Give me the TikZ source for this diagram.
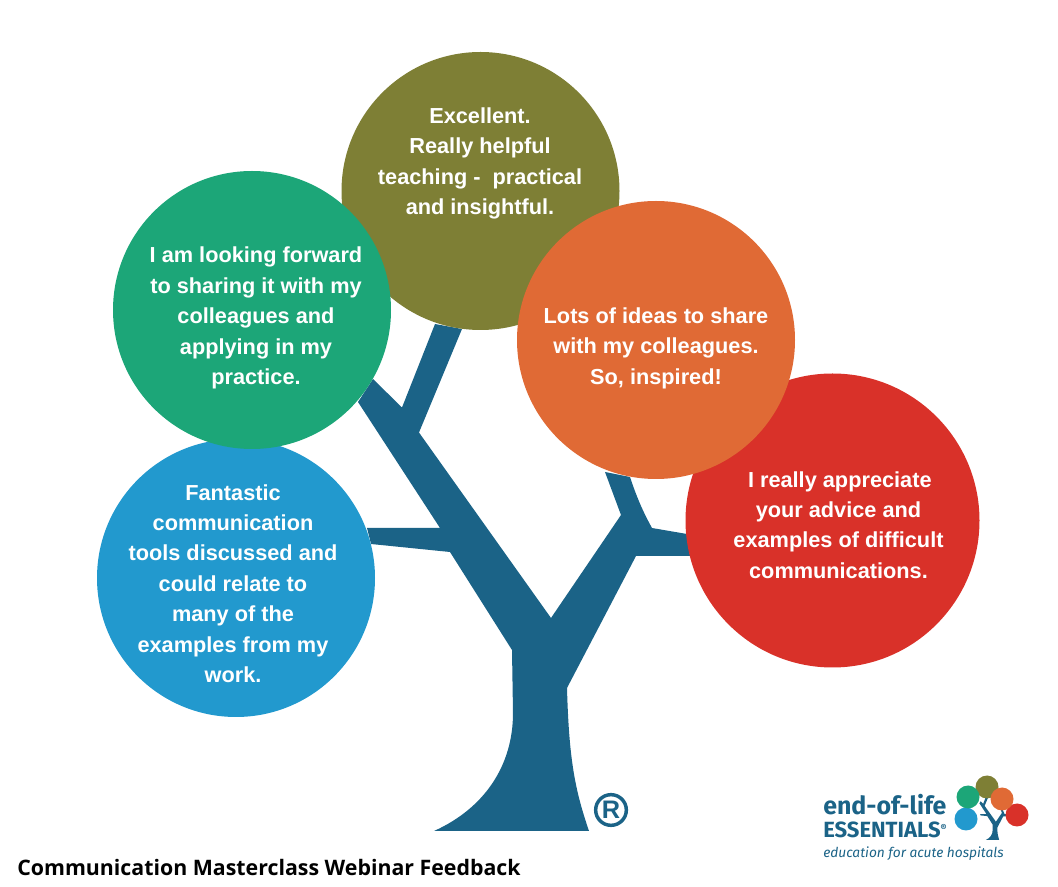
\documentclass[tikz,border=0pt]{standalone}
\usepackage{fontspec}
\usepackage{xcolor}
\usepackage{tikz}
\setmainfont{Liberation Sans}
\newfontfamily\titlefont{Open Sans}
\newfontfamily\logofont{Fira Sans}

\definecolor{treeblue}{HTML}{1B6387}
\definecolor{bubbleolive}{HTML}{7E7F35}
\definecolor{bubblegreen}{HTML}{1CA678}
\definecolor{bubbleblue}{HTML}{2299CE}
\definecolor{bubbleorange}{HTML}{E06A35}
\definecolor{bubblered}{HTML}{D93129}

\newcommand{\treeshape}{(434,831) -- (589,831)
    .. controls (575,790) and (569,760) .. (567,688)
    -- (636,556) -- (690,556) -- (687,534) -- (652,528)
    .. controls (642,510) and (636,495) .. (630,477)
    -- (605,472) -- (621,515) -- (551,618) -- (419,432.5)
    -- (462,329) -- (435,324) -- (402,407.5) -- (373,379)
    -- (358,402) -- (440,528) -- (367,528) -- (371,544)
    -- (450,552) -- (512,650) -- (513,713)
    .. controls (513,765) and (485,808) .. (434,831) -- cycle}

\begin{document}
\begin{tikzpicture}[
    x=0.75pt, y=-0.75pt,
    bubble/.style={circle, inner sep=0pt, minimum size=208.5pt},
    dot/.style={circle, inner sep=0pt, minimum size=17.25pt},
    msg/.style={align=center, text=white, inner sep=0pt,
                font=\fontsize{16.3pt}{22.8pt}\selectfont\bfseries}
]
    \useasboundingbox (0,0) rectangle (1058,887);

    \fill[treeblue] \treeshape;

    % Bubbles
    \node[bubble, fill=bubbleblue] (blue) at (236,578) {};
    \node[bubble, fill=bubbleolive] (olive) at (480.5,191) {};
    \node[bubble, fill=bubblegreen] (green) at (252,310) {};
    \node[bubble, fill=bubblered, minimum size=220.5pt] (red) at (832.5,520.5) {};
    \node[bubble, fill=bubbleorange] (orange) at (656,340) {};

    \node[msg] (bluetext) at (233,583.5) {Fantastic\\communication\\tools discussed and\\could relate to\\many of the\\examples from my\\work.};
    \node[msg] (olivetext) at (480,163.5) {Excellent.\\Really helpful\\teaching -\ \ practical\\and insightful.};
    \node[msg] (greentext) at (256,318) {I am looking forward\\to sharing it with my\\colleagues and\\applying in my\\practice.};
    \node[msg] (orangetext) at (656,348) {Lots of ideas to share\\with my colleagues.\\So, inspired!};
    \node[msg] (redtext) at (838.5,525) {\hspace*{2pt}I really appreciate\\your advice and\\examples of difficult\\communications.};

    \node[circle, draw=treeblue, line width=2.6pt, inner sep=0pt, minimum size=23pt,
          text=treeblue, font=\fontsize{19pt}{19pt}\selectfont\bfseries] (regmark) at (611,810) {R};

    \node[anchor=base west, inner sep=0pt, font=\titlefont\fontsize{16pt}{18pt}\selectfont\bfseries] (title) at (17,876)
        {Communication Masterclass Webinar Feedback};

    % Logo
    \fill[treeblue, shift={(948.8,768.9)}, scale=0.0855] \treeshape;
    \node[dot, fill=bubbleblue] (logoblue) at (966,819) {};
    \node[dot, fill=bubbleolive] (logoolive) at (987,787) {};
    \node[dot, fill=bubblegreen] (logogreen) at (968,797) {};
    \node[dot, fill=bubblered] (logored) at (1017,815) {};
    \node[dot, fill=bubbleorange] (logoorange) at (1002,799) {};

    \node[anchor=base west, inner sep=0pt, text=treeblue,
          font=\logofont\fontsize{18.7pt}{19pt}\selectfont\bfseries] (logoname) at (823,815) {end-of-life};
    \node[anchor=base west, inner sep=0pt, text=treeblue,
          font=\logofont\fontsize{16.5pt}{19pt}\selectfont\bfseries] (logoword) at (823,838)
        {ESSENTIALS{\fontsize{7pt}{7pt}\selectfont\raisebox{5pt}{\textregistered}}};
    \node[anchor=base west, inner sep=0pt, text=treeblue,
          font=\logofont\fontsize{10.3pt}{12pt}\selectfont\itshape] (logotag) at (823,858) {education for acute hospitals};
\end{tikzpicture}
\end{document}
